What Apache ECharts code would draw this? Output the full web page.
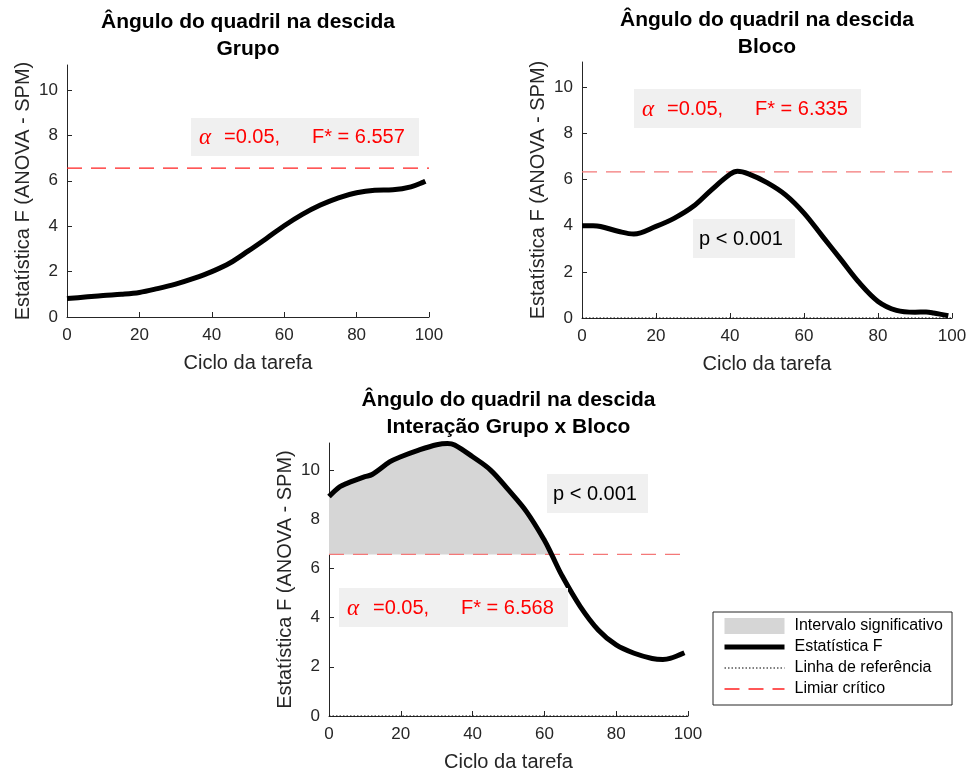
<!DOCTYPE html>
<html>
<head>
<meta charset="utf-8">
<script src="https://cdn.jsdelivr.net/npm/echarts@6/dist/echarts.min.js"></script>
<style>
html,body{margin:0;padding:0;background:#fff;}
#chart{width:970px;height:774px;}
</style>
</head>
<body>
<div id="chart"></div>
<script>
// ---------- data ----------
const titles = [
  'Ângulo do quadril na descida\nGrupo',
  'Ângulo do quadril na descida\nBloco',
  'Ângulo do quadril na descida\nInteração Grupo x Bloco'
];
const xTicks = [0, 20, 40, 60, 80, 100];
const yTicks = [0, 2, 4, 6, 8, 10];

const xGrupo = [0, 5, 10, 15, 20, 25, 30, 35, 40, 45, 50, 55, 60, 65, 70, 75, 80, 85, 90, 95, 99];
const fGrupo = [0.81, 0.88, 0.95, 1.0, 1.08, 1.25, 1.45, 1.7, 2.0, 2.38, 2.9, 3.45, 4.02, 4.52, 4.93, 5.25, 5.47, 5.58, 5.6, 5.73, 5.98];

const xBloco = [0, 3, 5, 10, 14, 20, 25, 30, 35, 40, 42, 45, 50, 55, 60, 65, 70, 75, 80, 85, 90, 93, 95, 99];
const fBloco = [4.0, 4.0, 3.97, 3.75, 3.64, 3.97, 4.33, 4.83, 5.56, 6.23, 6.36, 6.25, 5.87, 5.34, 4.55, 3.54, 2.53, 1.52, 0.72, 0.33, 0.25, 0.26, 0.22, 0.1];

const xInter = [0, 3, 5, 10, 12, 17, 20, 25, 30, 33, 35, 40, 45, 50, 55, 60, 62, 65, 70, 75, 80, 85, 90, 93, 95, 99];
const fInter = [8.92, 9.32, 9.46, 9.73, 9.82, 10.34, 10.54, 10.81, 11.03, 11.08, 11.02, 10.54, 10.0, 9.19, 8.31, 7.15, 6.57, 5.68, 4.45, 3.5, 2.89, 2.55, 2.34, 2.3, 2.34, 2.57];

const thresholds = [6.557, 6.335, 6.568];
const refLevel = 0;
const xRange = [0, 100];
const yMax = 11.1;

const legendNames = ['Intervalo significativo', 'Estatística F', 'Linha de referência', 'Limiar crítico'];
const alphaText = 'α';
const alphaValue = '=0.05,';
const pText = 'p < 0.001';

// ---------- helpers ----------
const FONT = '"Liberation Sans", Arial, sans-serif';
const AX = '#262626';
const pairs = (xs, ys) => xs.map((x, i) => [x, ys[i]]);

const grids = [
  {left: 67, top: 65, width: 362, height: 252},
  {left: 582, top: 62, width: 370, height: 256},
  {left: 329, top: 443, width: 359, height: 273}
];

function xAxis(i) {
  return {
    type: 'value', gridIndex: i, min: xRange[0], max: xRange[1], interval: 20,
    name: 'Ciclo da tarefa', nameLocation: 'middle', nameGap: 36,
    nameTextStyle: {color: AX, fontSize: 20, fontFamily: FONT},
    axisLine: {show: true, onZero: false, lineStyle: {color: AX, width: 1}},
    axisTick: {show: true, inside: true, length: 5, lineStyle: {color: AX}, customValues: xTicks},
    axisLabel: {color: AX, fontSize: 17, fontFamily: FONT, margin: 10, customValues: xTicks},
    splitLine: {show: false}
  };
}
function yAxis(i) {
  return {
    type: 'value', gridIndex: i, min: 0, max: yMax, interval: 2,
    name: 'Estatística F (ANOVA - SPM)', nameLocation: 'middle', nameGap: 34,
    nameTextStyle: {color: AX, fontSize: 20, fontFamily: FONT},
    axisLine: {show: true, onZero: false, lineStyle: {color: AX, width: 1}},
    axisTick: {show: true, inside: true, length: 5, lineStyle: {color: AX}, customValues: yTicks},
    axisLabel: {color: AX, fontSize: 17, fontFamily: FONT, margin: 9, customValues: yTicks},
    splitLine: {show: false}
  };
}
function fLine(i, data) {
  return {
    name: legendNames[1], type: 'line', xAxisIndex: i, yAxisIndex: i, data: data,
    smooth: 0.35, symbol: 'none', showSymbol: false, clip: false, z: 4,
    lineStyle: {color: '#000', width: 5}, itemStyle: {color: '#000'}
  };
}
function thrLine(i, color) {
  return {
    name: legendNames[3], type: 'line', xAxisIndex: i, yAxisIndex: i,
    data: [[xRange[0], thresholds[i]], [xRange[1], thresholds[i]]],
    symbol: 'none', showSymbol: false, z: 3, silent: true,
    lineStyle: {color: color, width: 1.3, type: [15, 9]}, itemStyle: {color: color}
  };
}
function refLine(i) {
  return {
    name: legendNames[2], type: 'line', xAxisIndex: i, yAxisIndex: i,
    data: [[xRange[0], refLevel], [xRange[1], refLevel]],
    symbol: 'none', showSymbol: false, z: 3, silent: true,
    lineStyle: {color: '#000', width: 1, type: [1.5, 2]}, itemStyle: {color: '#000'}
  };
}

const interPairs = pairs(xInter, fInter);
const sigPairs = interPairs.filter(p => p[1] >= thresholds[2]);

// text box graphics
function boxRect(x, y, w, h) {
  return {type: 'rect', z: 10, shape: {x: x, y: y, width: w, height: h}, style: {fill: '#f0f0f0'}};
}
function boxText(x, y, text, color, font) {
  return {type: 'text', z: 11, x: x, y: y, style: {text: text, fill: color, font: font, verticalAlign: 'middle', align: 'left'}};
}
const TF = '20px ' + FONT;
const AF = 'italic 23px "Liberation Serif", "DejaVu Serif", serif';
function alphaBox(bx, by, bw, bh, ax, vx, fx, cy, thr) {
  return [
    boxRect(bx, by, bw, bh),
    boxText(ax, cy + 1, alphaText, '#ff0000', AF),
    boxText(vx, cy, alphaValue, '#ff0000', TF),
    boxText(fx, cy, 'F* = ' + thr.toFixed(3), '#ff0000', TF)
  ];
}
function pBox(bx, by, bw, bh, tx, cy) {
  return [boxRect(bx, by, bw, bh), boxText(tx, cy, pText, '#000', TF)];
}

const graphics = [].concat(
  alphaBox(191, 118, 228, 38, 199, 224, 312, 137, thresholds[0]),
  alphaBox(634, 89, 227, 39, 642, 667, 755, 109, thresholds[1]),
  pBox(693, 219, 102, 39, 699, 239),
  alphaBox(339, 588, 229, 39, 347, 373, 461, 608, thresholds[2]),
  pBox(547, 474, 101, 39, 553, 494)
);

const noSym = {opacity: 0, borderWidth: 0};
const option = {
  backgroundColor: '#fff',
  animation: false,
  title: titles.map((t, i) => ({
    text: t, left: grids[i].left + grids[i].width / 2, top: [9, 7, 387][i], textAlign: 'center', padding: 0,
    textStyle: {fontSize: 21, fontWeight: 'bold', color: '#000', fontFamily: FONT, lineHeight: 27}
  })),
  grid: grids,
  xAxis: [xAxis(0), xAxis(1), xAxis(2)],
  yAxis: [yAxis(0), yAxis(1), yAxis(2)],
  legend: {
    orient: 'vertical', left: 713, top: 612, selectedMode: false,
    padding: [6, 9, 8, 9], itemWidth: 60, itemHeight: 16, itemGap: 5,
    backgroundColor: '#fff', borderColor: AX, borderWidth: 1, borderRadius: 0,
    textStyle: {color: '#000', fontSize: 16, fontFamily: FONT, padding: [0, 0, 0, 5]},
    data: [
      {name: legendNames[0], icon: 'rect', itemStyle: {color: '#d6d6d6'}},
      {name: legendNames[1], lineStyle: {width: 5}, itemStyle: noSym},
      {name: legendNames[2], lineStyle: {width: 1}, itemStyle: noSym},
      {name: legendNames[3], lineStyle: {width: 1.3}, itemStyle: noSym}
    ]
  },
  series: [
    fLine(0, pairs(xGrupo, fGrupo)),
    thrLine(0, '#ff2020'),
    refLine(1),
    fLine(1, pairs(xBloco, fBloco)),
    thrLine(1, '#f47878'),
    {
      name: legendNames[0], type: 'line', xAxisIndex: 2, yAxisIndex: 2, data: sigPairs,
      smooth: 0.35, symbol: 'none', showSymbol: false, z: 1, silent: true,
      lineStyle: {width: 0, color: '#d6d6d6'}, itemStyle: {color: '#d6d6d6'},
      areaStyle: {color: '#d6d6d6', opacity: 1, origin: thresholds[2]}
    },
    refLine(2),
    fLine(2, interPairs),
    thrLine(2, '#f47878')
  ],
  graphic: graphics
};

const chart = echarts.init(document.getElementById('chart'), null, {renderer: 'canvas'});
chart.setOption(option);
</script>
</body>
</html>
